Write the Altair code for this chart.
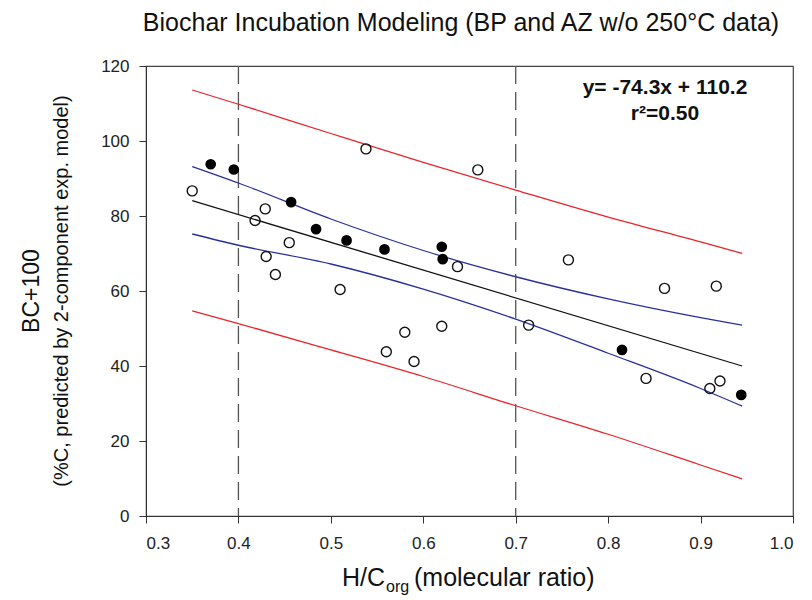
import altair as alt
import pandas as pd

# ---- data ----
filled_x = [0.370, 0.395, 0.457, 0.484, 0.517, 0.558, 0.620, 0.621, 0.815, 0.944]
filled_y = [93.8, 92.4, 83.7, 76.5, 73.5, 71.1, 71.8, 68.5, 44.3, 32.3]
open_x = [0.350, 0.538, 0.429, 0.418, 0.455, 0.637, 0.430, 0.440, 0.510, 0.580,
          0.560, 0.590, 0.620, 0.659, 0.757, 0.861, 0.917, 0.714, 0.841, 0.910, 0.921]
open_y = [86.7, 97.9, 81.9, 78.8, 72.9, 66.5, 69.2, 64.4, 60.4, 49.0,
          43.8, 41.2, 50.6, 92.3, 68.3, 60.7, 61.3, 50.9, 36.7, 34.0, 36.0]
band_x = [0.35, 0.40, 0.50, 0.60, 0.70, 0.80, 0.90, 0.945]
pred_upper = [113.6, 109.8, 102.0, 94.3, 86.9, 79.7, 73.1, 70.0]
conf_upper = [93.2, 88.8, 79.2, 70.8, 63.8, 57.9, 52.9, 50.9]
conf_lower = [75.2, 72.2, 67.2, 60.5, 52.5, 43.4, 34.0, 29.3]
pred_lower = [54.7, 51.3, 44.3, 37.2, 29.4, 21.8, 13.6, 9.9]
fit_x = [0.35, 0.945]
fit_y = [84.1, 40.0]
ref_x = [0.4, 0.7]
x_ticks = [0.3, 0.4, 0.5, 0.6, 0.7, 0.8, 0.9, 1.0]
y_ticks = [0, 20, 40, 60, 80, 100, 120]

title_text = ["Biochar Incubation Modeling (BP and AZ w/o 250\u00b0C data)"]
eq_line1 = ["y= -74.3x + 110.2"]
eq_line2 = ["r\u00b2=0.50"]
ytitle1 = ["BC+100"]
ytitle2 = ["(%C, predicted by 2-component exp. model)"]
xtitle_parts = ["H/C", "org", "(molecular ratio)"]

W, H = 647, 450
FONT = "Liberation Sans"
INK = "#111111"

xs = alt.Scale(domain=[0.3, 1.0], nice=False, zero=False)
ys = alt.Scale(domain=[0, 120], nice=False)


def X(f):
    return alt.X(f, scale=xs, title=None,
                 axis=alt.Axis(values=x_ticks, format=".1f", grid=False, labelPadding=12))


def Y(f):
    return alt.Y(f, scale=ys, title=None,
                 axis=alt.Axis(values=y_ticks, grid=False, labelPadding=10))


rows = []
for name, vals in [("pu", pred_upper), ("cu", conf_upper), ("cl", conf_lower), ("pl", pred_lower)]:
    for xv, yv in zip(band_x, vals):
        rows.append({"band": name, "x": xv, "y": yv})
bands_df = pd.DataFrame(rows)

bands = alt.Chart(bands_df).mark_line(strokeWidth=1.3, interpolate="monotone").encode(
    x=X("x:Q"), y=Y("y:Q"),
    color=alt.Color("band:N", legend=None,
                    scale=alt.Scale(domain=["pu", "cu", "cl", "pl"],
                                    range=["#e8252b", "#2b2f9e", "#2b2f9e", "#e8252b"])),
    detail="band:N",
)

fit = alt.Chart(pd.DataFrame({"x": fit_x, "y": fit_y})).mark_line(
    color=INK, strokeWidth=1.3).encode(x=X("x:Q"), y=Y("y:Q"))

refs = alt.Chart(pd.DataFrame({"x": ref_x})).mark_rule(
    color="#555555", strokeWidth=1.3, strokeDash=[18, 8]).encode(
    x=X("x:Q"), y=alt.value(0), y2=alt.value(H))

filled = alt.Chart(pd.DataFrame({"x": filled_x, "y": filled_y})).mark_point(
    shape="circle", filled=True, color="#000000", size=115, opacity=1).encode(
    x=X("x:Q"), y=Y("y:Q"))

opened = alt.Chart(pd.DataFrame({"x": open_x, "y": open_y})).mark_point(
    shape="circle", filled=False, color=INK, size=100, strokeWidth=1.4, opacity=1).encode(
    x=X("x:Q"), y=Y("y:Q"))


def label(text, px, py, size, weight="normal", align="center", angle=0):
    kw = dict(font=FONT, fontSize=size, fontWeight=weight, color=INK,
              align=align, baseline="middle")
    if angle:
        kw["angle"] = angle
    return alt.Chart(pd.DataFrame({"t": text})).mark_text(**kw).encode(
        x=alt.value(px), y=alt.value(py), text="t:N")


title = label(title_text, 315, -43, 25)
eq1 = label(eq_line1, 519, 22, 21, weight="bold")
eq2 = label(eq_line2, 519, 48, 21, weight="bold")
yt1 = label(ytitle1, -114, H / 2, 23, angle=270)
yt2 = label(ytitle2, -84, H / 2, 20, angle=270)
xt_a = label([xtitle_parts[0]], 196, 512, 25, align="left")
xt_b = label([xtitle_parts[1]], 240, 521, 16, align="left")
xt_c = label([xtitle_parts[2]], 268, 512, 25, align="left")

chart = alt.layer(refs, bands, fit, opened, filled, title, eq1, eq2, yt1, yt2,
                  xt_a, xt_b, xt_c).properties(
    width=W, height=H, autosize="none",
    padding={"left": 138, "top": 58, "right": 11, "bottom": 84},
).configure_view(stroke="#444444", strokeWidth=1.2).configure_axis(
    domainColor="#333333", tickColor="#333333", tickSize=7, labelFont=FONT,
    labelFontSize=17, labelColor="#222222", grid=False,
)

chart.save("out.html", embed_options={"renderer": "svg", "actions": False})
